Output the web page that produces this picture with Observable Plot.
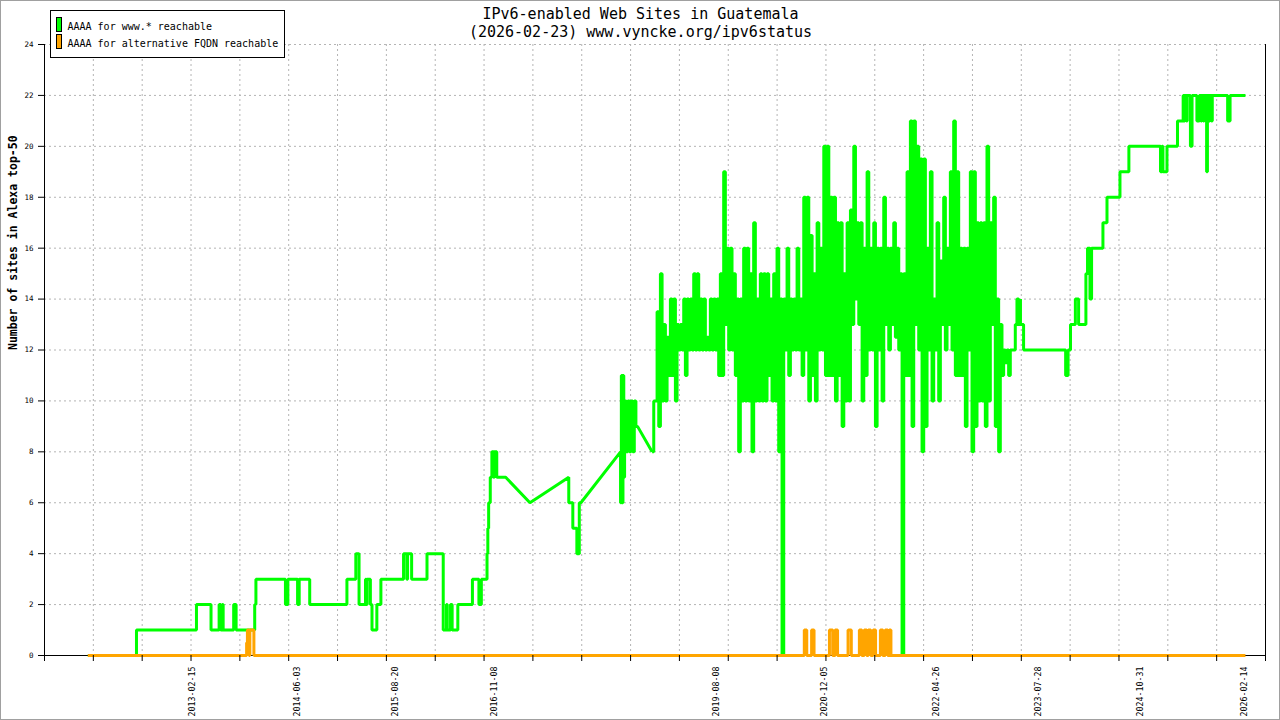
<!DOCTYPE html>
<html>
<head>
<meta charset="utf-8">
<script src="https://cdn.jsdelivr.net/npm/d3@7"></script>
<script src="https://cdn.jsdelivr.net/npm/@observablehq/plot@0.6"></script>
<style>
  body { margin: 0; background: #fff; }
  #wrap { position: relative; width: 1280px; height: 720px; overflow: hidden; font-family: "DejaVu Sans Mono", monospace; color: #000; }
  #frame { position: absolute; left: 0; top: 0; right: 0; bottom: 0; border: 1px solid #a0a0a0; pointer-events: none; }
  #title { position: absolute; top: 5px; left: 0; width: 1281px; text-align: center; font-size: 15px; line-height: 18px; }
  #legend { position: absolute; left: 50px; top: 10px; width: 233px; height: 46px; border: 1px solid #000; background: #fff; }
  .sw { position: absolute; left: 5px; width: 4px; height: 13px; border: 1px solid #000; }
  .lt { position: absolute; left: 16.5px; font-size: 10px; line-height: 12px; white-space: pre; }
</style>
</head>
<body>
<div id="wrap">
  <div id="chart"></div>
  <div id="title"></div>
  <div id="legend"></div>
  <div id="frame"></div>
</div>
<script>
// ─────────────────────────────────────────────────────────────
//  1. DATA  (x as decimal years)
// ─────────────────────────────────────────────────────────────
const TITLE_LINES = ["IPv6-enabled Web Sites in Guatemala", "(2026-02-23) www.vyncke.org/ipv6status"];
const SERIES      = ["AAAA for www.* reachable", "AAAA for alternative FQDN reachable"];
const COLORS      = ["#00ff00", "#ffa500"];
const Y_LABEL     = "Number of sites in Alexa top-50";
const Y_TICKS     = [0, 2, 4, 6, 8, 10, 12, 14, 16, 18, 20, 22, 24];
const X_DOMAIN    = [2011.294, 2026.378];
const X_TICK_COUNT = 25;   // equal divisions of the time axis
const X_LABELS    = ["2013-02-15", "2014-06-03", "2015-08-20", "2016-11-08", "2019-08-08",
                     "2020-12-05", "2022-04-26", "2023-07-28", "2024-10-31", "2026-02-14"];

// www.* series, up to the busy period
const GREEN_A = [
  [2011.83,0],[2012.43,0],[2012.43,1],[2013.17,1],[2013.17,2],[2013.35,2],[2013.35,1],
  [2013.45,1],[2013.45,2],[2013.47,2],[2013.47,1],[2013.49,1],[2013.49,2],[2013.50,2],[2013.50,1],
  [2013.63,1],[2013.63,2],[2013.66,2],[2013.66,1],[2013.89,1],[2013.89,2],[2013.905,2],[2013.905,3],
  [2014.27,3],[2014.27,2],[2014.30,2],[2014.30,3],[2014.42,3],[2014.42,2],[2014.44,2],[2014.44,3],
  [2014.57,3],[2014.57,2],[2015.03,2],[2015.03,3],[2015.14,3],[2015.14,4],[2015.18,4],[2015.18,2],
  [2015.26,2],[2015.26,3],[2015.27,3],[2015.27,2],[2015.28,2],[2015.28,3],[2015.32,3],[2015.32,2],
  [2015.34,2],[2015.34,1],[2015.40,1],[2015.40,2],[2015.45,2],[2015.45,3],[2015.73,3],[2015.73,4],
  [2015.77,4],[2015.77,3],[2015.78,3],[2015.78,4],[2015.83,4],[2015.83,3],[2016.02,3],[2016.02,4],
  [2016.22,4],[2016.22,1],[2016.26,1],[2016.26,2],[2016.27,2],[2016.27,1],[2016.31,1],[2016.31,2],
  [2016.33,2],[2016.33,1],[2016.40,1],[2016.40,2],[2016.58,2],[2016.58,3],[2016.66,3],[2016.66,2],
  [2016.69,2],[2016.69,3],[2016.76,3],[2016.76,4],[2016.77,4],[2016.77,5],[2016.78,5],[2016.78,6],
  [2016.80,6],[2016.80,7],[2016.82,7],[2016.82,8],[2016.84,8],[2016.84,7],[2016.85,7],[2016.85,8],
  [2016.88,8],[2016.88,7],[2016.99,7],[2017.29,6],[2017.77,7],[2017.77,6],[2017.82,6],[2017.82,5],
  [2017.87,5],[2017.87,4],[2017.90,4],[2017.90,6],[2017.92,6],[2018.41,8],[2018.41,6],[2018.42,6],
  [2018.42,11],[2018.43,11],[2018.43,6],[2018.44,6],[2018.44,11],[2018.45,11],[2018.45,7],[2018.46,7],
  [2018.46,10],[2018.48,10],[2018.48,8],[2018.50,8],[2018.50,10],[2018.52,10],[2018.52,8],[2018.54,8],
  [2018.54,10],[2018.56,10],[2018.56,8],[2018.58,8],[2018.58,10],[2018.60,10],[2018.60,9],[2018.62,9],
  [2018.80,8]
];

// busy period: one low and one high reading per column of the picture
const NOISE_START = 2018.80;
const NOISE_STEP  = 0.04117;
const NOISE_HI = [
  10,13.5,15,13,12.5,14,14,13,13,14, 14,14,15,15,14,14,12.5,14,14,14,
  15,19,16,16,15,14,14,16,16,15, 17,14,15,15,15,14,15,16,14,14,
  16,14,14,16,14,18,18,16.5,15,17, 16,20,20,18,18,17,17,15,17,17.5,
  20,17,17,16,19,16,17,16,16,18, 16,16,17,16,15,15,19,21,21,20,
  19.5,19.5,16,19,14,17,15.5,18,16,19, 21,19,16,16,16,19,19,17,17,17,
  20,17,18,14,13,12,12,12,12,14, 14
];
const NOISE_LO = [
  8,10,9,10,10,11,11,10,12,12, 11,12,12,12,12,12,12,12,12,12,
  11,11,13,12,12,11,8,10,10,10, 8,10,10,10,10,11,10,10,8,0,
  12,11,12,12,12,11,12,10,11,10, 12,12,11,11,11,10,11,9,10,10,
  13,14,13,10,11,12,12,9,12,10, 13,12,13,12.5,12,0,11,11,9,13,
  12,8,9,12,10,12,10,13,12,13, 12,11,11,11,9,12,8,9,10,10,
  9,10,13,9,8,11,11.5,11,12,13, 13
];

// www.* series, after the busy period
const GREEN_B = [
  [2023.35,14],[2023.35,13],[2023.39,13],[2023.39,12],[2023.91,12],[2023.91,11],[2023.94,11],[2023.94,12],
  [2023.97,12],[2023.97,13],[2024.03,13],[2024.03,14],[2024.07,14],[2024.07,13],[2024.16,13],[2024.16,15],
  [2024.18,15],[2024.18,16],[2024.21,16],[2024.21,14],[2024.23,14],[2024.23,16],[2024.37,16],[2024.37,17],
  [2024.42,17],[2024.42,18],[2024.58,18],[2024.58,19],[2024.69,19],[2024.69,20],[2025.08,20],[2025.08,19],
  [2025.10,19],[2025.10,20],[2025.11,20],[2025.11,19],[2025.16,19],[2025.16,20],[2025.29,20],[2025.29,21],
  [2025.36,21],[2025.36,22],[2025.37,22],[2025.37,21],[2025.38,21],[2025.38,22],[2025.40,22],[2025.40,21],
  [2025.41,21],[2025.41,22],[2025.45,22],[2025.45,20],[2025.47,20],[2025.47,22],[2025.53,22],[2025.53,21],
  [2025.56,21],[2025.56,22],[2025.58,22],[2025.58,21],[2025.59,21],[2025.59,22],[2025.61,22],[2025.61,21],
  [2025.62,21],[2025.62,22],[2025.65,22],[2025.65,19],[2025.66,19],[2025.66,22],[2025.68,22],[2025.68,21],
  [2025.69,21],[2025.69,22],[2025.71,22],[2025.71,21],[2025.72,21],[2025.72,22],[2025.91,22],[2025.91,21],
  [2025.94,21],[2025.94,22],[2026.13,22]
];

// alternative FQDN series
const ORANGE = [
  [2011.83,0],[2013.79,0],[2013.79,0.5],[2013.80,0.5],[2013.80,1],[2013.82,1],[2013.82,0],[2013.83,0],
  [2013.83,1],[2013.88,1],[2013.88,0],[2020.68,0],[2020.68,1],[2020.71,1],[2020.71,0],[2020.77,0],
  [2020.77,1],[2020.80,1],[2020.80,0],[2020.99,0],[2020.99,1],[2021.03,1],[2021.03,0],[2021.06,0],
  [2021.06,1],[2021.09,1],[2021.09,0],[2021.22,0],[2021.22,1],[2021.26,1],[2021.26,0],[2021.36,0],
  [2021.36,1],[2021.39,1],[2021.39,0],[2021.42,0],[2021.42,1],[2021.45,1],[2021.45,0],[2021.47,0],
  [2021.47,1],[2021.50,1],[2021.50,0],[2021.53,0],[2021.53,1],[2021.56,1],[2021.56,0],[2021.62,0],
  [2021.62,1],[2021.65,1],[2021.65,0],[2021.68,0],[2021.68,1],[2021.71,1],[2021.71,0],[2021.73,0],
  [2021.73,1],[2021.75,1],[2021.75,0],[2026.13,0]
];

// ─────────────────────────────────────────────────────────────
//  2. PREP
// ─────────────────────────────────────────────────────────────
function toDate(y) {
  const Y = Math.floor(y);
  const a = Date.UTC(Y, 0, 1), b = Date.UTC(Y + 1, 0, 1);
  return new Date(a + (y - Y) * (b - a));
}
const asRows = arr => arr.map(([t, v]) => ({ date: toDate(t), value: v }));

// low, high, low, high ... half a column apart, drawn as steps
const noiseRows = NOISE_HI
  .flatMap((hi, i) => [NOISE_LO[i], hi])
  .map((v, k) => ({ date: toDate(NOISE_START + k * NOISE_STEP / 2), value: v }));

const greenA = asRows(GREEN_A);
const greenB = asRows(GREEN_B);
const orange = asRows(ORANGE);

const xDomain = X_DOMAIN.map(toDate);
const xTicks  = d3.range(X_TICK_COUNT + 1).map(i =>
  new Date(+xDomain[0] + i * (xDomain[1] - xDomain[0]) / X_TICK_COUNT));
const labelDates = X_LABELS.map(d3.utcParse("%Y-%m-%d"));

// ─────────────────────────────────────────────────────────────
//  3. CHART
// ─────────────────────────────────────────────────────────────
const GRID = { stroke: "#b4b4b4", strokeOpacity: 1, strokeDasharray: "2,3" };
const LINE = { x: "date", y: "value", strokeWidth: 3, strokeLinejoin: "miter", strokeLinecap: "butt" };

const chart = Plot.plot({
  width: 1280,
  height: 720,
  marginLeft: 44,
  marginRight: 15,
  marginTop: 44,
  marginBottom: 65,
  style: { fontFamily: "DejaVu Sans Mono", background: "#fff", color: "#000" },
  x: { type: "utc", domain: xDomain },
  y: { domain: [0, 24] },
  marks: [
    Plot.gridX(xTicks.slice(1, -1), GRID),
    Plot.gridY(Y_TICKS.slice(1), GRID),
    Plot.ruleY([0], { stroke: "#000" }),
    Plot.ruleX(xDomain, { stroke: "#000" }),
    Plot.line(greenA,    { ...LINE, stroke: COLORS[0] }),
    Plot.line(noiseRows, { ...LINE, stroke: COLORS[0], curve: "step-after" }),
    Plot.line(greenB,    { ...LINE, stroke: COLORS[0] }),
    Plot.line(orange,    { ...LINE, stroke: COLORS[1] }),
    Plot.axisY({ ticks: Y_TICKS, tickSize: 6, tickPadding: 5, fontSize: 7.5, label: null }),
    Plot.axisX({ ticks: xTicks, tickSize: 6, tickFormat: () => "", label: null }),
    Plot.axisX({
      ticks: labelDates, tickSize: 0, tickPadding: 11, tickRotate: -90,
      tickFormat: d3.utcFormat("%Y-%m-%d"), fontSize: 8.3, label: null
    }),
    Plot.text([Y_LABEL], {
      frameAnchor: "left", dx: -31, rotate: -90,
      fontWeight: "bold", fontSize: 11.5, fill: "#000"
    })
  ]
});
document.getElementById("chart").appendChild(chart);

// ─────────────────────────────────────────────────────────────
//  4. TITLE + LEGEND
// ─────────────────────────────────────────────────────────────
document.getElementById("title").innerHTML = TITLE_LINES.join("<br>");

const legend = document.getElementById("legend");
SERIES.forEach((name, i) => {
  const sw = document.createElement("div");
  sw.className = "sw";
  sw.style.top = (5.5 + i * 17.5) + "px";
  sw.style.background = COLORS[i];
  const lt = document.createElement("div");
  lt.className = "lt";
  lt.style.top = (9.5 + i * 17.3) + "px";
  lt.textContent = name;
  legend.appendChild(sw);
  legend.appendChild(lt);
});
</script>
</body>
</html>
